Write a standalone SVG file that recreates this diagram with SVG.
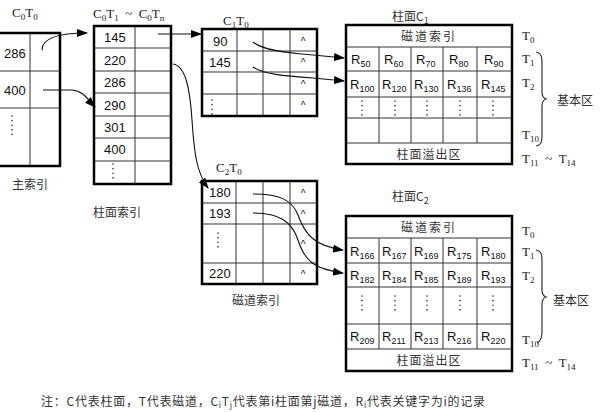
<svg xmlns="http://www.w3.org/2000/svg" width="600" height="412" viewBox="0 0 600 412">
<defs>
<style>
.box{fill:none;stroke:#000;stroke-width:2.5}
.grid{fill:none;stroke:#333;stroke-width:1}
.num{font-family:"Liberation Sans",Arial,sans-serif;font-size:13px;fill:#111}
.car{font-family:"Liberation Sans",Arial,sans-serif;font-size:10px;fill:#111;text-anchor:middle}
.lbl{font-family:"Liberation Serif","Noto Sans CJK SC",serif;font-size:13px;fill:#222}
.cn{font-family:"Noto Sans CJK SC",sans-serif;font-size:12px;fill:#333}
.dots{fill:none;stroke:#333;stroke-width:1.6;stroke-linecap:round;stroke-dasharray:0.1,4.5}
.conn{fill:none;stroke:#111;stroke-width:1.1}
.brace{fill:none;stroke:#333;stroke-width:1.2}
</style>
<marker id="ah" markerUnits="userSpaceOnUse" markerWidth="11" markerHeight="8" refX="10" refY="4" orient="auto">
<path d="M0,0 L11,4 L0,8 Z" fill="#000"/>
</marker>
</defs>
<rect width="600" height="412" fill="#fff"/>

<!-- main index -->
<g id="main-index">
<text class="lbl" x="12" y="17">C<tspan font-size="9" dy="3">0</tspan><tspan dy="-3">T</tspan><tspan font-size="9" dy="3">0</tspan></text>
<path class="grid" d="M0,71H60 M0,108H60 M30,33V166"/>
<rect class="box" x="-2" y="33" width="62" height="133"/>
<text class="num" x="4" y="58">286</text>
<text class="num" x="4" y="95">400</text>
<path class="dots" d="M12,116V136"/>
<text class="cn" x="12" y="189" font-size="13">主索引</text>
</g>

<!-- cylinder index -->
<g id="cylinder-index">
<text class="lbl" x="93" y="18">C<tspan font-size="9" dy="3">0</tspan><tspan dy="-3">T</tspan><tspan font-size="9" dy="3">1</tspan><tspan dy="-3">&#160; ~ &#160;C</tspan><tspan font-size="9" dy="3">0</tspan><tspan dy="-3">T</tspan><tspan font-size="9" dy="3">n</tspan></text>
<path class="grid" d="M94,48H171 M94,71H171 M94,93H171 M94,116H171 M94,138H171 M94,161H171 M135,26V184"/>
<rect class="box" x="94" y="26" width="77" height="158"/>
<text class="num" x="104" y="42">145</text>
<text class="num" x="104" y="65">220</text>
<text class="num" x="104" y="87">286</text>
<text class="num" x="104" y="110">290</text>
<text class="num" x="104" y="132">301</text>
<text class="num" x="104" y="154">400</text>
<path class="dots" d="M113,164V182"/>
<text class="cn" x="93" y="217" font-size="13">柱面索引</text>
</g>

<!-- track index C1T0 -->
<g id="track-index-c1">
<text class="lbl" x="223" y="25">C<tspan font-size="9" dy="3">1</tspan><tspan dy="-3">T</tspan><tspan font-size="9" dy="3">0</tspan></text>
<path class="grid" d="M202,51H317 M202,72H317 M202,94H317 M237,29V116 M263,29V116 M290,29V116"/>
<rect class="box" x="202" y="29" width="115" height="87"/>
<text class="num" x="213" y="46">90</text>
<text class="num" x="209" y="67">145</text>
<path class="dots" d="M212,100V114"/>
<text class="car" x="303" y="45">^</text>
<text class="car" x="303" y="66">^</text>
<text class="car" x="303" y="88">^</text>
<text class="car" x="303" y="109">^</text>
</g>

<!-- track index C2T0 -->
<g id="track-index-c2">
<text class="lbl" x="216" y="172">C<tspan font-size="9" dy="3">2</tspan><tspan dy="-3">T</tspan><tspan font-size="9" dy="3">0</tspan></text>
<path class="grid" d="M202,203H317 M202,224H317 M202,263H317 M236,181V284 M263,181V284 M290,181V284"/>
<rect class="box" x="202" y="181" width="115" height="103"/>
<text class="num" x="209" y="197">180</text>
<text class="num" x="209" y="218">193</text>
<path class="dots" d="M218,233V250"/>
<text class="num" x="209" y="278">220</text>
<text class="car" x="303" y="197">^</text>
<text class="car" x="303" y="218">^</text>
<text class="car" x="303" y="248">^</text>
<text class="car" x="303" y="278">^</text>
<text class="cn" x="232" y="305" font-size="13">磁道索引</text>
</g>

<!-- cylinder C1 -->
<g id="cylinder-c1">
<text class="cn" x="392" y="21" font-size="13">柱面C<tspan font-size="9" dy="3">1</tspan></text>
<path class="grid" d="M346,47H512 M346,71H512 M346,97H512 M346,118H512 M346,143H512 M379,47V143 M411,47V143 M443,47V143 M477,47V143"/>
<rect class="box" x="346" y="25" width="166" height="139"/>
<text class="cn" x="429" y="41" text-anchor="middle" letter-spacing="2">磁道索引</text>
<text class="num" x="351" y="64">R<tspan font-size="9" dy="3">50</tspan></text>
<text class="num" x="384" y="64">R<tspan font-size="9" dy="3">60</tspan></text>
<text class="num" x="416" y="64">R<tspan font-size="9" dy="3">70</tspan></text>
<text class="num" x="449" y="64">R<tspan font-size="9" dy="3">80</tspan></text>
<text class="num" x="484" y="64">R<tspan font-size="9" dy="3">90</tspan></text>
<text class="num" x="350" y="89">R<tspan font-size="9" dy="3">100</tspan></text>
<text class="num" x="382" y="89">R<tspan font-size="9" dy="3">120</tspan></text>
<text class="num" x="414" y="89">R<tspan font-size="9" dy="3">130</tspan></text>
<text class="num" x="447" y="89">R<tspan font-size="9" dy="3">136</tspan></text>
<text class="num" x="481" y="89">R<tspan font-size="9" dy="3">145</tspan></text>
<path class="dots" d="M362,101V115 M395,101V115 M427,101V115 M460,101V115 M493,101V115"/>
<text class="cn" x="429" y="159" text-anchor="middle" letter-spacing="1">柱面溢出区</text>
</g>
<g id="cylinder-c1-labels">
<text class="lbl" x="522" y="40">T<tspan font-size="9" dy="3">0</tspan></text>
<text class="lbl" x="522" y="63">T<tspan font-size="9" dy="3">1</tspan></text>
<text class="lbl" x="522" y="87">T<tspan font-size="9" dy="3">2</tspan></text>
<text class="lbl" x="522" y="139">T<tspan font-size="9" dy="3">10</tspan></text>
<text class="lbl" x="522" y="163">T<tspan font-size="9" dy="3">11</tspan><tspan dy="-3">&#160; ~ &#160;T</tspan><tspan font-size="9" dy="3">14</tspan></text>
<path class="brace" d="M536,52 C542,53 542,58 542,64 L542,92 C542,96 543,98 546,99 C543,100 542,102 542,106 L542,134 C542,140 542,145 536,146"/>
<text class="cn" x="557" y="105" font-size="13">基本区</text>
</g>

<!-- cylinder C2 -->
<g id="cylinder-c2">
<text class="cn" x="392" y="201" font-size="13">柱面C<tspan font-size="9" dy="3">2</tspan></text>
<path class="grid" d="M346,238H512 M346,263H512 M346,287H512 M346,324H512 M346,349H512 M379,238V349 M411,238V349 M443,238V349 M477,238V349"/>
<rect class="box" x="346" y="216" width="166" height="155"/>
<text class="cn" x="429" y="232" text-anchor="middle" letter-spacing="2">磁道索引</text>
<text class="num" x="350" y="256">R<tspan font-size="9" dy="3">166</tspan></text>
<text class="num" x="382" y="256">R<tspan font-size="9" dy="3">167</tspan></text>
<text class="num" x="414" y="256">R<tspan font-size="9" dy="3">169</tspan></text>
<text class="num" x="447" y="256">R<tspan font-size="9" dy="3">175</tspan></text>
<text class="num" x="481" y="256">R<tspan font-size="9" dy="3">180</tspan></text>
<text class="num" x="350" y="280">R<tspan font-size="9" dy="3">182</tspan></text>
<text class="num" x="382" y="280">R<tspan font-size="9" dy="3">184</tspan></text>
<text class="num" x="414" y="280">R<tspan font-size="9" dy="3">185</tspan></text>
<text class="num" x="447" y="280">R<tspan font-size="9" dy="3">189</tspan></text>
<text class="num" x="481" y="280">R<tspan font-size="9" dy="3">193</tspan></text>
<path class="dots" d="M362,296V310 M395,296V310 M427,296V310 M460,296V310 M493,296V310"/>
<text class="num" x="350" y="341">R<tspan font-size="9" dy="3">209</tspan></text>
<text class="num" x="382" y="341">R<tspan font-size="9" dy="3">211</tspan></text>
<text class="num" x="414" y="341">R<tspan font-size="9" dy="3">213</tspan></text>
<text class="num" x="447" y="341">R<tspan font-size="9" dy="3">216</tspan></text>
<text class="num" x="481" y="341">R<tspan font-size="9" dy="3">220</tspan></text>
<text class="cn" x="429" y="365" text-anchor="middle" letter-spacing="1">柱面溢出区</text>
</g>
<g id="cylinder-c2-labels">
<text class="lbl" x="522" y="235">T<tspan font-size="9" dy="3">0</tspan></text>
<text class="lbl" x="522" y="256">T<tspan font-size="9" dy="3">1</tspan></text>
<text class="lbl" x="522" y="280">T<tspan font-size="9" dy="3">2</tspan></text>
<text class="lbl" x="522" y="344">T<tspan font-size="9" dy="3">10</tspan></text>
<text class="lbl" x="522" y="367">T<tspan font-size="9" dy="3">11</tspan><tspan dy="-3">&#160; ~ &#160;T</tspan><tspan font-size="9" dy="3">14</tspan></text>
<path class="brace" d="M536,250 C542,251 542,256 542,262 L542,290 C542,294 543,296 546,297 C543,298 542,300 542,304 L542,332 C542,338 541,341 537,343"/>
<text class="cn" x="553" y="305" font-size="13">基本区</text>
</g>

<!-- connectors -->
<g id="connectors">
<path class="conn" marker-end="url(#ah)" d="M42,50 C42,38 58,33 87,33"/>
<path class="conn" marker-end="url(#ah)" d="M43,90 L72,90 C84,91 88,100 95,107"/>
<path class="conn" marker-end="url(#ah)" d="M158,34 L201,34"/>
<path class="conn" marker-end="url(#ah)" d="M173,64 C186,66 190,90 192,120 C194,150 196,172 208,188"/>
<path class="conn" marker-end="url(#ah)" d="M253,42 C262,50 285,53 313,55 L344,58"/>
<path class="conn" marker-end="url(#ah)" d="M253,67 C262,74 285,76 313,78 L344,81"/>
<path class="conn" marker-end="url(#ah)" d="M253,194 C280,194 292,200 298,215 C305,235 315,246 343,250"/>
<path class="conn" marker-end="url(#ah)" d="M253,213 C280,213 292,222 298,240 C305,262 315,269 343,273"/>
</g>

<!-- note -->
<text class="cn" x="41" y="406" font-size="12.5" textLength="444" lengthAdjust="spacing">注：C代表柱面，T代表磁道，C<tspan font-size="8" dy="2">i</tspan><tspan dy="-2">T</tspan><tspan font-size="8" dy="2">j</tspan><tspan dy="-2">代表第i柱面第j磁道，R</tspan><tspan font-size="8" dy="2">i</tspan><tspan dy="-2">代表关键字为i的记录</tspan></text>
</svg>
